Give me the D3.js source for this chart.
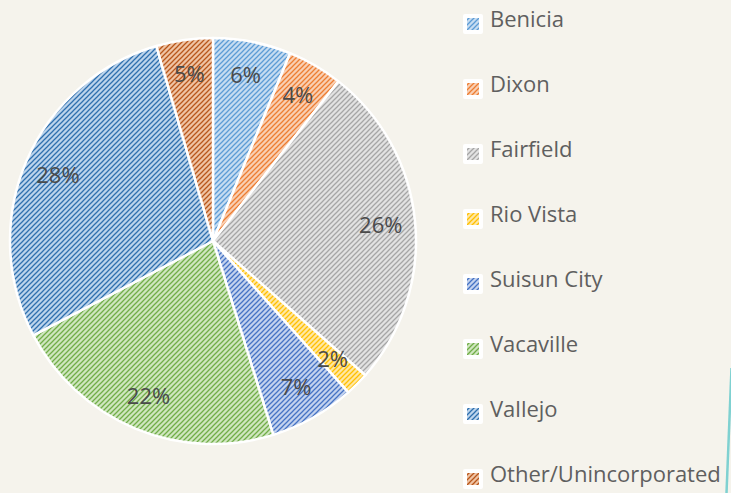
<!DOCTYPE html>
<html>
<head>
<meta charset="utf-8">
<script src="https://cdn.jsdelivr.net/npm/d3@7"></script>
<style>
  body { margin: 0; background: #f5f3ec; }
  svg { display: block; }
</style>
</head>
<body>
<div id="chart"></div>
<script>
// Data
var cities = ["Benicia", "Dixon", "Fairfield", "Rio Vista", "Suisun City", "Vacaville", "Vallejo", "Other/Unincorporated"];
var shares = [6.2, 4.4, 25.9, 1.9, 6.8, 22.1, 28.2, 4.5];
var pctLabels = ["6%", "4%", "26%", "2%", "7%", "22%", "28%", "5%"];

// stripe colours (dark line, light ground) for each city
var darkColors = ["#5b9bd5", "#ed7d31", "#a5a5a5", "#ffc000", "#4472c4", "#70ad47", "#2e6fae", "#b8561a"];
var lightColors = ["#c6dcf1", "#f9cfb3", "#e2e2e2", "#ffe7a3", "#c3d2ee", "#cfe6bf", "#bcd4ec", "#efc3a4"];

var svgWidth = 731;
var svgHeight = 493;

var svg = d3.select("#chart")
  .append("svg")
  .attr("width", svgWidth)
  .attr("height", svgHeight);

svg.append("rect")
  .attr("width", svgWidth)
  .attr("height", svgHeight)
  .attr("fill", "#f5f3ec");

// hatch patterns
var defs = svg.append("defs");
cities.forEach(function(c, i) {
  var p = defs.append("pattern")
    .attr("id", "hatch" + i)
    .attr("patternUnits", "userSpaceOnUse")
    .attr("width", 5)
    .attr("height", 5);
  p.append("rect")
    .attr("width", 5)
    .attr("height", 5)
    .attr("fill", lightColors[i]);
  p.append("path")
    .attr("d", "M-1,1 L1,-1 M0,5 L5,0 M4,6 L6,4")
    .attr("stroke", darkColors[i])
    .attr("stroke-width", 1.25);
});

// pie
var cx = 213, cy = 241, radius = 203;
var pieGroup = svg.append("g")
  .attr("transform", `translate(${cx}, ${cy})`);

var pie = d3.pie().sort(null).value(d => d);
var arcs = pie(shares);

var arc = d3.arc().innerRadius(0).outerRadius(radius);
var labelArc = d3.arc().innerRadius(radius * 0.83).outerRadius(radius * 0.83);

pieGroup.selectAll("path.slice")
  .data(arcs)
  .enter()
  .append("path")
  .attr("class", "slice")
  .attr("d", arc)
  .attr("fill", (d, i) => `url(#hatch${i})`)
  .attr("stroke", "#ffffff")
  .attr("stroke-width", 2.5)
  .attr("stroke-linejoin", "round");

pieGroup.selectAll("text.pct")
  .data(arcs)
  .enter()
  .append("text")
  .attr("class", "pct")
  .attr("x", d => labelArc.centroid(d)[0])
  .attr("y", d => labelArc.centroid(d)[1])
  .attr("dy", "0.35em")
  .attr("text-anchor", "middle")
  .attr("font-family", "Open Sans")
  .attr("font-size", "22px")
  .attr("fill", "#4a4a4a")
  .text((d, i) => pctLabels[i]);

// legend
var legendY = d3.scalePoint()
  .domain(cities)
  .range([27, 482]);

var legend = svg.append("g");
var rows = legend.selectAll("g")
  .data(cities)
  .enter()
  .append("g")
  .attr("transform", d => `translate(0, ${legendY(d)})`);

rows.append("rect")
  .attr("x", 463)
  .attr("y", -13)
  .attr("width", 20)
  .attr("height", 20)
  .attr("rx", 2)
  .attr("fill", "#ffffff");

rows.append("rect")
  .attr("x", 467)
  .attr("y", -9)
  .attr("width", 12)
  .attr("height", 12)
  .attr("fill", (d, i) => `url(#hatch${i})`);

rows.append("text")
  .attr("x", 490)
  .attr("y", 0)
  .attr("font-family", "Open Sans")
  .attr("font-size", "22px")
  .attr("fill", "#5f5f5f")
  .text(d => d);

// teal edge line at the right
svg.append("line")
  .attr("x1", 731.5)
  .attr("y1", 368)
  .attr("x2", 726.5)
  .attr("y2", 493)
  .attr("stroke", "#7fd1d1")
  .attr("stroke-width", 2.5);
</script>
</body>
</html>
